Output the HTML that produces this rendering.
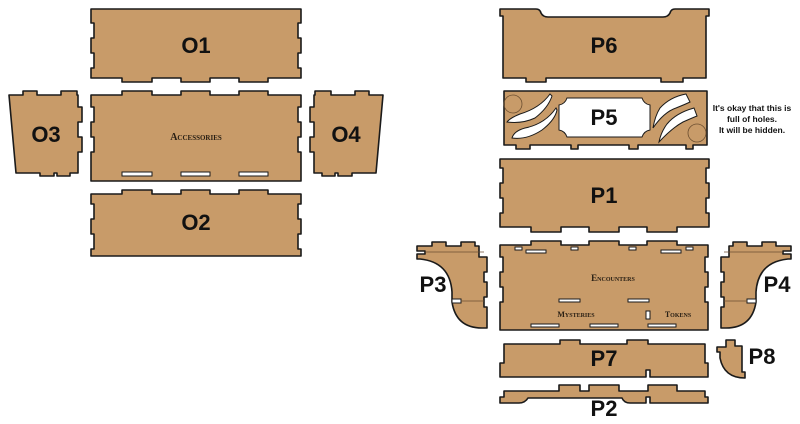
<!DOCTYPE html>
<html><head><meta charset="utf-8"><style>
html,body{margin:0;padding:0;background:#fff;}
svg{display:block}
.p{fill:#c89b69;stroke:#1a1a1a;stroke-width:1.6;stroke-linejoin:round}
.h{fill:#fff;stroke:#1a1a1a;stroke-width:1}
.l{font-family:"Liberation Sans",sans-serif;font-weight:bold;font-size:22px;fill:#111;text-anchor:middle}
.s{font-family:"Liberation Serif",serif;font-weight:bold;font-variant:small-caps;fill:#2a2015;text-anchor:middle}
.n{font-family:"Liberation Sans",sans-serif;font-weight:bold;font-size:8.5px;fill:#111;text-anchor:middle}
.t{fill:none;stroke:#6b4e30;stroke-width:0.7}
</style></head><body>
<svg width="800" height="424" viewBox="0 0 800 424" xmlns="http://www.w3.org/2000/svg">
<path class="p" d="M91,9 H301 V23 H298 V38 H301 V53 H298 V68 H301 V78 H268 V82 H239 V78 H210 V82 H181 V78 H152 V82 H122 V78 H91 V68 H94 V53 H91 V38 H94 V23 H91 Z"/>
<text class="l" x="196" y="53">O1</text>
<path class="p" d="M91,95 H122 V91 H152 V95 H181 V91 H210 V95 H239 V91 H268 V95 H301 V107 H298 V122 H301 V137 H298 V152 H301 V181 H91 V152 H94 V137 H91 V122 H94 V107 H91 Z"/>
<rect class="h" x="122" y="172" width="30" height="4"/>
<rect class="h" x="181" y="172" width="29" height="4"/>
<rect class="h" x="239" y="172" width="29" height="4"/>
<text class="s" x="196" y="140" font-size="10">Accessories</text>
<path class="p" d="M91,194 H122 V190 H152 V194 H181 V190 H210 V194 H239 V190 H268 V194 H301 V204 H298 V219 H301 V234 H298 V249 H301 V256 H91 V249 H94 V234 H91 V219 H94 V204 H91 Z"/>
<text class="l" x="196" y="230">O2</text>
<path class="p" d="M9,95 H23 V91 H37 V95 H61 V91 H77 V95 H78 V107 H82 V122 H78 V137 H82 V152 H78 V173 H70 V176 H57 V173 H54 V176 H40 V173 H16 Z"/>
<text class="l" x="46" y="142">O3</text>
<path class="p" d="M383,95 H369 V91 H355 V95 H331 V91 H315 V95 H314 V107 H310 V122 H314 V137 H310 V152 H314 V173 H322 V176 H335 V173 H338 V176 H352 V173 H376 Z"/>
<text class="l" x="346" y="142">O4</text>

<path class="p" d="M500,9 H536 Q540,9 541,13 Q543,17 548,17 H663 Q668,17 670,13 Q671,9 675,9 H709 V16 H706 V78 H683 V82 H661 V78 H546 V82 H526 V78 H503 V16 H500 Z"/>
<text class="l" x="604" y="53">P6</text>
<path class="p" d="M504,91 H707 V145 H693 V149 H686 V145 H638 V149 H629 V145 H578 V149 H571 V145 H530 V149 H516 V145 H504 Z"/>
<circle cx="513" cy="104" r="9" fill="none" stroke="#6b4e30" stroke-width="0.8"/>
<circle cx="697" cy="133" r="9" fill="none" stroke="#6b4e30" stroke-width="0.8"/>
<path class="h" d="M567,98 H642 Q644,104 650,105 V130 Q644,131 642,137 H567 Q565,131 559,130 V105 Q565,104 567,98 Z"/>
<path class="h" d="M550,94 Q540,108 520,114 Q510,118 507,122 Q522,124 535,118 Q548,108 552,96 Z"/>
<path class="h" d="M556,108 Q545,124 525,128 Q514,131 512,138 Q527,140 542,130 Q555,120 557,110 Z"/>
<path class="h" d="M686,94 Q670,97 660,108 Q655,116 653,128 Q664,112 676,108 Q686,104 690,102 Z"/>
<path class="h" d="M694,108 Q676,113 667,124 Q661,132 659,142 Q672,128 683,122 Q692,118 697,116 Z"/>
<text class="l" x="604" y="125">P5</text>
<text class="n" x="752" y="111">It's okay that this is</text>
<text class="n" x="752" y="122">full of holes.</text>
<text class="n" x="752" y="133">It will be hidden.</text>
<path class="p" d="M500,159 H709 V168 H706 V183 H709 V198 H706 V213 H709 V227 H677 V232 H647 V227 H619 V232 H589 V227 H561 V232 H531 V227 H500 V213 H503 V198 H500 V183 H503 V168 H500 Z"/>
<text class="l" x="604" y="203">P1</text>
<path class="p" d="M500,245 H531 V241 H561 V245 H589 V241 H619 V245 H647 V241 H677 V245 H708 V257 H705 V272 H708 V287 H705 V302 H708 V330 H500 V302 H503 V287 H500 V272 H503 V257 H500 Z"/>
<rect class="h" x="515" y="247" width="7" height="3"/>
<rect class="h" x="526" y="250" width="20" height="3"/>
<rect class="h" x="571" y="247" width="7" height="3"/>
<rect class="h" x="629" y="247" width="7" height="3"/>
<rect class="h" x="661" y="250" width="20" height="3"/>
<rect class="h" x="686" y="247" width="7" height="3"/>
<rect class="h" x="559" y="299" width="21" height="3"/>
<rect class="h" x="628" y="299" width="21" height="3"/>
<rect class="h" x="531" y="324" width="28" height="3"/>
<rect class="h" x="590" y="324" width="28" height="3"/>
<rect class="h" x="648" y="324" width="28" height="3"/>
<rect class="h" x="646" y="311" width="4" height="8"/>
<text class="s" x="613" y="281" font-size="9">Encounters</text>
<text class="s" x="576" y="317" font-size="8">Mysteries</text>
<text class="s" x="678" y="317" font-size="8">Tokens</text>
<path class="p" d="M417,246 H432 V242 H446 V246 H461 V242 H475 V246 H479 V257 H487 V272 H484 V282 H487 V297 H484 V307 H487 V328 H482 Q456,328 452,302 L452,292 Q450,262 420,259 H417 V254 H425 V251 H417 Z"/>
<rect class="h" x="452" y="299" width="9" height="4"/>
<line class="t" x1="425" y1="252" x2="484" y2="252"/>
<line class="t" x1="461" y1="301" x2="484" y2="301"/>
<text class="l" x="433" y="292">P3</text>
<path class="p" d="M791,246 H776 V242 H762 V246 H747 V242 H733 V246 H729 V257 H721 V272 H724 V282 H721 V297 H724 V307 H721 V328 H726 Q752,328 756,302 L756,292 Q758,262 788,259 H791 V254 H783 V251 H791 Z"/>
<rect class="h" x="747" y="299" width="9" height="4"/>
<line class="t" x1="724" y1="252" x2="783" y2="252"/>
<line class="t" x1="724" y1="301" x2="747" y2="301"/>
<text class="l" x="777" y="292">P4</text>
<path class="p" d="M504,344 H560 V340 H580 V344 H627 V340 H648 V344 H705 V363 H708 V377 H650 V370 H646 V377 H500 V363 H504 Z"/>
<text class="l" x="604" y="366">P7</text>
<path class="p" d="M726,340 H735 V346 H742 V372 H745 V378 Q724,378 720,358 V352 H717 V347 H726 Z"/>
<text class="l" x="762" y="364">P8</text>
<path class="p" d="M504,391 H559 V385 H580 V391 H589 V385 H619 V391 H648 V385 H677 V391 H705 V397 H708 V403 H650 V397 H646 V403 H630 Q624,403 622,398 H528 Q525,403 519,403 H500 V397 H504 Z"/>
<text class="l" x="604" y="416">P2</text>
</svg>
</body></html>
